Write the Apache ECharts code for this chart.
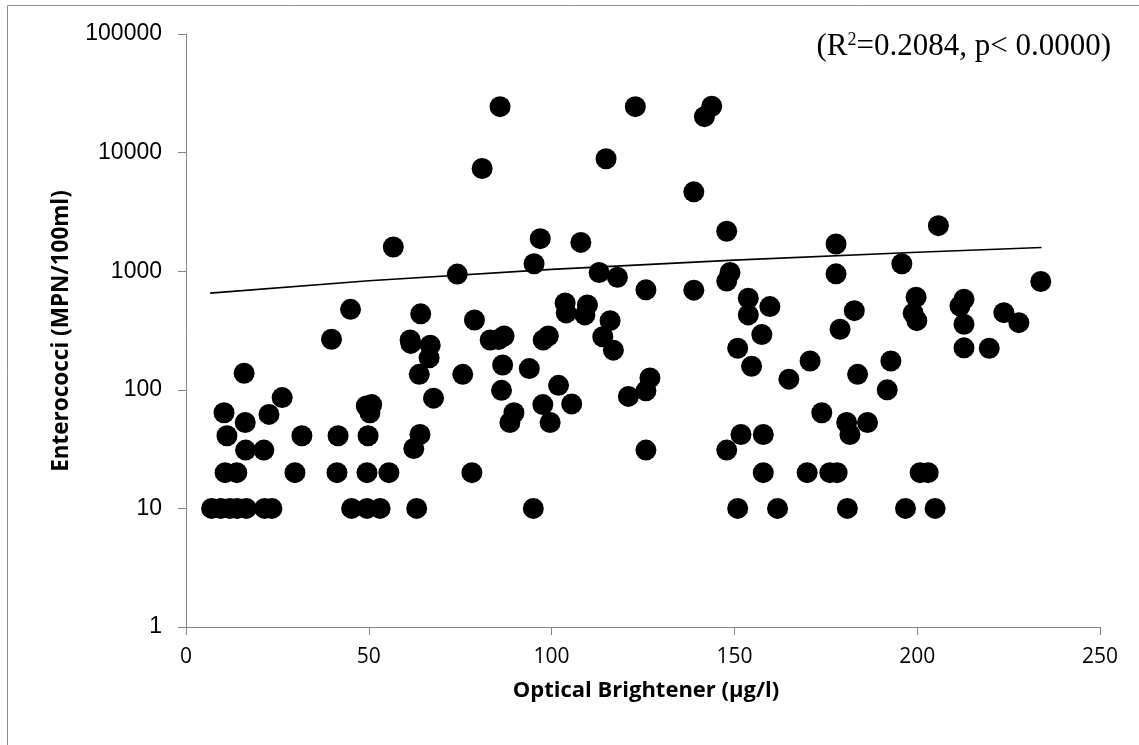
<!DOCTYPE html>
<html>
<head>
<meta charset="utf-8">
<script src="https://cdn.jsdelivr.net/npm/echarts@6/dist/echarts.min.js"></script>
<style>
html,body{margin:0;padding:0;background:#fff;}
#chart{width:1139px;height:745px;}
</style>
</head>
<body>
<div id="chart"></div>
<script>
// Optical brightener (µg/l) for each sample
var opticalBrightener = [
  7, 9.5, 12, 14, 16.5, 21.5, 23.5, 45.3, 49.5, 53.1, 63.1, 95.0, 150.9, 161.8, 180.9, 196.8, 204.9,
  10.7, 13.9, 29.8, 41.3, 49.5, 55.5, 78.2, 157.9, 169.9, 176.1, 178.1, 200.8, 203.0,
  16.3, 21.3, 11.2, 31.7, 41.6, 49.8, 16.2, 10.4, 22.7, 49.3, 50.8, 50.3, 26.3, 15.9, 39.8, 45.0,
  81.0, 56.7, 74.2, 96.9, 95.2, 103.7, 104.0, 64.2, 78.9, 61.3, 61.5, 66.8, 66.5, 83.2, 85.5, 87.0,
  86.6, 93.9, 97.7, 99.1, 63.8, 75.7, 101.9, 86.3, 67.7, 97.6, 105.5, 89.7, 88.6, 99.6, 64.0, 62.3,
  85.9, 122.9, 143.8, 141.8, 114.9, 138.9, 147.9, 108.0, 113.0, 118.0, 125.8, 138.9, 148.8, 147.9,
  109.8, 109.1, 116.0, 114.0, 116.9, 153.8, 153.8, 157.5, 150.9, 154.7, 126.9, 125.8, 121.0, 125.8,
  151.8, 147.9,
  205.8, 177.8, 177.8, 195.8, 159.7, 182.8, 178.9, 199.7, 198.9, 199.9, 170.7, 164.9, 183.7, 192.8,
  191.8, 173.9, 180.7, 181.6, 186.4, 157.9,
  233.8, 212.8, 211.7, 212.8, 223.7, 227.8, 212.8, 219.7
];
// Enterococci (MPN/100ml) for each sample, same order
var enterococci = [
  10, 10, 10, 10, 10, 10, 10, 10, 10, 10, 10, 10, 10, 10, 10, 10, 10,
  20, 20, 20, 20, 20, 20, 20, 20, 20, 20, 20, 20, 20,
  31, 31, 41, 41, 41, 41, 53, 64, 62, 73, 75, 64, 86, 138, 267, 477,
  7350, 1600, 945, 1880, 1155, 540, 445, 437, 388, 263, 246, 238, 186, 263, 265, 284,
  162, 151, 263, 284, 135, 135, 109, 99, 85, 75, 76, 64, 53, 53, 42, 32,
  24400, 24400, 24600, 20100, 8870, 4670, 2170, 1750, 975, 890, 696, 692, 975, 825,
  520, 428, 383, 280, 216, 592, 428, 292, 224, 158, 126, 98, 88, 31,
  42, 31,
  2420, 1695, 950, 1155, 503, 465, 324, 604, 442, 383, 175, 123, 135, 175,
  100, 64, 53, 42, 53, 42,
  818, 580, 509, 357, 447, 368, 226, 224
];
// Trend line readings (x, y)
var trendX = [6.6, 50, 100, 150, 200, 234];
var trendY = [653, 831, 1036, 1241, 1446, 1585];

var xTicks = [0, 50, 100, 150, 200, 250];
var yTicks = [1, 10, 100, 1000, 10000, 100000];

var scatterData = opticalBrightener.map(function (x, i) { return [x, enterococci[i]]; });
var trendData = trendX.map(function (x, i) { return [x, trendY[i]]; });

var chart = echarts.init(document.getElementById('chart'), null, {renderer: 'canvas'});
var axisGray = '#868686';
chart.setOption({
  animation: false,
  backgroundColor: '#ffffff',
  grid: {left: 186, right: 39, top: 34, bottom: 118, containLabel: false},
  xAxis: {
    type: 'value',
    min: xTicks[0], max: xTicks[xTicks.length - 1], interval: 50,
    axisLine: {show: true, onZero: false, lineStyle: {color: axisGray, width: 1}},
    axisTick: {show: true, length: 8, lineStyle: {color: axisGray}},
    axisLabel: {color: '#000', fontFamily: 'Open Sans', fontSize: 21, margin: 20},
    splitLine: {show: false}
  },
  yAxis: {
    type: 'log', logBase: 10,
    min: yTicks[0], max: yTicks[yTicks.length - 1],
    axisLine: {show: true, lineStyle: {color: axisGray, width: 1}},
    axisTick: {show: true, length: 8, lineStyle: {color: axisGray}},
    axisLabel: {color: '#000', fontFamily: 'Liberation Sans', fontSize: 23, margin: 24,
      formatter: function (v) { return String(Math.round(v)); }},
    splitLine: {show: false},
    minorTick: {show: false}
  },
  series: [
    {
      type: 'scatter',
      data: scatterData,
      symbol: 'circle',
      symbolSize: 21,
      itemStyle: {color: '#000', opacity: 1},
      z: 2
    },
    {
      type: 'line',
      data: trendData,
      showSymbol: false,
      symbol: 'none',
      smooth: false,
      lineStyle: {color: '#000', width: 1.6},
      z: 3
    }
  ],
  graphic: [
    {type: 'rect', shape: {x: 7.5, y: 5.5, width: 1200, height: 800}, style: {fill: null, stroke: '#8c8c8c', lineWidth: 1}, z: 0, silent: true},
    {type: 'text', x: 646, y: 691, style: {text: 'Optical Brightener (µg/l)', fontFamily: 'Open Sans', fontWeight: 'bold', fontSize: 22, fill: '#000', align: 'center', verticalAlign: 'middle'}},
    {type: 'text', x: 62, y: 331, rotation: Math.PI / 2, style: {text: 'Enterococci (MPN/100ml)', fontFamily: 'Open Sans', fontWeight: 'bold', fontSize: 22.5, fill: '#000', align: 'center', verticalAlign: 'middle'}},
    {type: 'text', x: 1111, y: 47, style: {
      text: '(R{sup|2}=0.2084, p< 0.0000)',
      rich: {sup: {fontSize: 18, verticalAlign: 'top', padding: [0, 0, 14, 0], fontFamily: 'Liberation Serif', fill: '#000'}},
      fontFamily: 'Liberation Serif', fontSize: 31, fill: '#000', align: 'right', verticalAlign: 'middle'}}
  ]
});
</script>
</body>
</html>
